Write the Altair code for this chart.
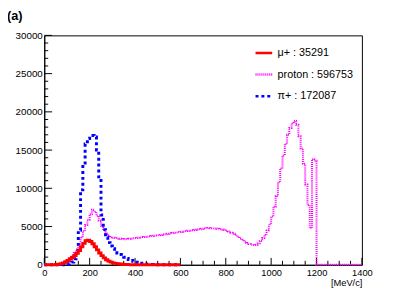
import altair as alt
import pandas as pd

BIN = 10  # MeV/c per bin

# mu+ : bins 0..590
mu_counts = [0, 0, 0, 0, 5, 30, 80, 150, 250, 400,
             560, 750, 950, 1200, 1500, 1850, 2350, 2800, 3150, 3200,
             3050, 2750, 2350, 1950, 1550, 1200, 900, 650, 480, 350,
             250, 180, 130, 90, 65, 45, 30, 20, 15, 10,
             5, 5, 0, 0, 0, 0, 0, 0, 0, 0,
             0, 0, 0, 0, 0, 0, 0, 0, 0, 0]

# pi+ : bins 0..590
pi_counts = [0, 0, 0, 0, 0, 0, 0, 0, 0, 0,
             50, 150, 350, 800, 1900, 4500, 9800, 13300, 15800, 16500,
             16900, 16900, 16700, 15000, 11500, 6500, 4600, 3600, 2900, 2450,
             2100, 1800, 1550, 1350, 1150, 980, 830, 690, 560, 450,
             350, 270, 200, 150, 110, 80, 55, 35, 20, 10,
             0, 0, 0, 0, 0, 0, 0, 0, 0, 0]

# proton : bins 0..1390
p_counts = [0, 0, 0, 0, 0, 0, 20, 60, 150, 300,
            550, 850, 1200, 1550, 2000, 2700, 3600, 4400, 5200, 5900,
            6600, 7200, 6900, 6400, 5800, 5100, 4500, 4100, 3800, 3600,
            3550, 3500, 3450, 3400, 3380, 3350, 3370, 3400, 3450, 3480,
            3500, 3550, 3580, 3620, 3650, 3680, 3720, 3760, 3800, 3830,
            3870, 3900, 3950, 4000, 4050, 4100, 4150, 4200, 4230, 4280,
            4320, 4360, 4400, 4450, 4480, 4520, 4560, 4600, 4650, 4700,
            4750, 4800, 4820, 4780, 4760, 4740, 4700, 4660, 4600, 4530,
            4450, 4350, 4200, 4050, 3880, 3650, 3450, 3250, 3050, 2850,
            2700, 2620, 2600, 2620, 2800, 3100, 3500, 3900, 4500, 5300,
            6300, 7600, 9000, 10800, 12600, 14300, 15800, 17000, 17900, 18500,
            18800, 18300, 16800, 15200, 13200, 10500, 7800, 4800, 13800, 13600,
            0, 0, 0, 0, 0, 0, 0, 0, 0, 0,
            0, 0, 0, 0, 0, 0, 0, 0, 0, 0]

labels = ["μ+ : 35291", "proton : 596753", "π+ : 172087"]
colors = ["#ff0000", "#ff00ff", "#0000ff"]
dashes = [[1, 0], [1, 1], [3, 3]]

x_major = list(range(0, 1401, 200))
x_minor = [v for v in range(0, 1401, 50) if v % 200]
y_major = list(range(0, 30001, 5000))
y_minor = [v for v in range(0, 30001, 1000) if v % 5000]

W, H = 324, 234
FONT = "Liberation Sans"


def steps(label, counts):
    rows = [{"series": label, "x": i * BIN, "y": c} for i, c in enumerate(counts)]
    rows.append({"series": label, "x": len(counts) * BIN, "y": counts[-1]})
    return rows


df = pd.DataFrame(steps(labels[0], mu_counts) + steps(labels[1], p_counts)
                  + steps(labels[2], pi_counts))

xscale = alt.Scale(domain=[0, 1400], nice=False, zero=False)
yscale = alt.Scale(domain=[0, 30000], nice=False)

legend = alt.Legend(title=None, orient="none", legendX=214, legendY=8,
                    symbolType="stroke", symbolSize=289, symbolStrokeWidth=2.5,
                    labelFont=FONT, labelFontSize=11, labelColor="black",
                    labelOffset=4, rowPadding=7, padding=0)

xenc = alt.X("x:Q", scale=xscale, title="[MeV/c]")
yenc = alt.Y("y:Q", scale=yscale, title=None)

base = alt.Chart(df).encode(
    x=xenc, y=yenc,
    color=alt.Color("series:N", scale=alt.Scale(domain=labels, range=colors), legend=legend),
    strokeDash=alt.StrokeDash("series:N", scale=alt.Scale(domain=labels, range=dashes), legend=legend),
)

p_line = base.transform_filter(alt.datum.series == labels[1]).mark_line(
    interpolate="step-after", strokeWidth=2)
pi_line = base.transform_filter(alt.datum.series == labels[2]).mark_line(
    interpolate="step-after", strokeWidth=3)
mu_line = base.transform_filter(alt.datum.series == labels[0]).mark_line(
    interpolate="step-after", strokeWidth=3)


def xticks(vals, length):
    return alt.Chart(pd.DataFrame({"x": vals})).mark_rule(color="black", strokeWidth=1).encode(
        x=xenc, y=alt.value(H), y2=alt.value(H - length))


def yticks(vals, length):
    return alt.Chart(pd.DataFrame({"y": vals})).mark_rule(color="black", strokeWidth=1).encode(
        y=yenc, x=alt.value(0), x2=alt.value(length))


chart = alt.layer(
    xticks(x_major, 7), xticks(x_minor, 4), yticks(y_major, 8), yticks(y_minor, 4),
    p_line, pi_line, mu_line,
).properties(
    width=W, height=H,
    autosize=alt.AutoSizeParams(type="none"),
    padding={"left": 37, "top": 25, "right": 46, "bottom": 33},
    title=alt.TitleParams(text="(a)", anchor="start", frame="group", font=FONT,
                          fontSize=13, fontWeight="bold", color="black",
                          dx=-38, offset=8),
).configure_view(
    stroke="black", strokeWidth=1,
).configure_axis(
    grid=False, ticks=False, domainColor="black", domainWidth=1,
    labelFont=FONT, labelColor="black", labelFlush=False, format="d",
).configure_axisX(
    labelFontSize=9.5, labelPadding=3,
    titleFont=FONT, titleFontSize=9.5, titleFontWeight="normal", titleColor="black",
    titleAnchor="end", titleAlign="right", titleX=W, titleY=21, titleBaseline="alphabetic",
    values=x_major,
).configure_axisY(
    labelFontSize=10, labelPadding=2, values=y_major,
)

chart.save("out.html", embed_options={"renderer": "svg", "actions": False})
